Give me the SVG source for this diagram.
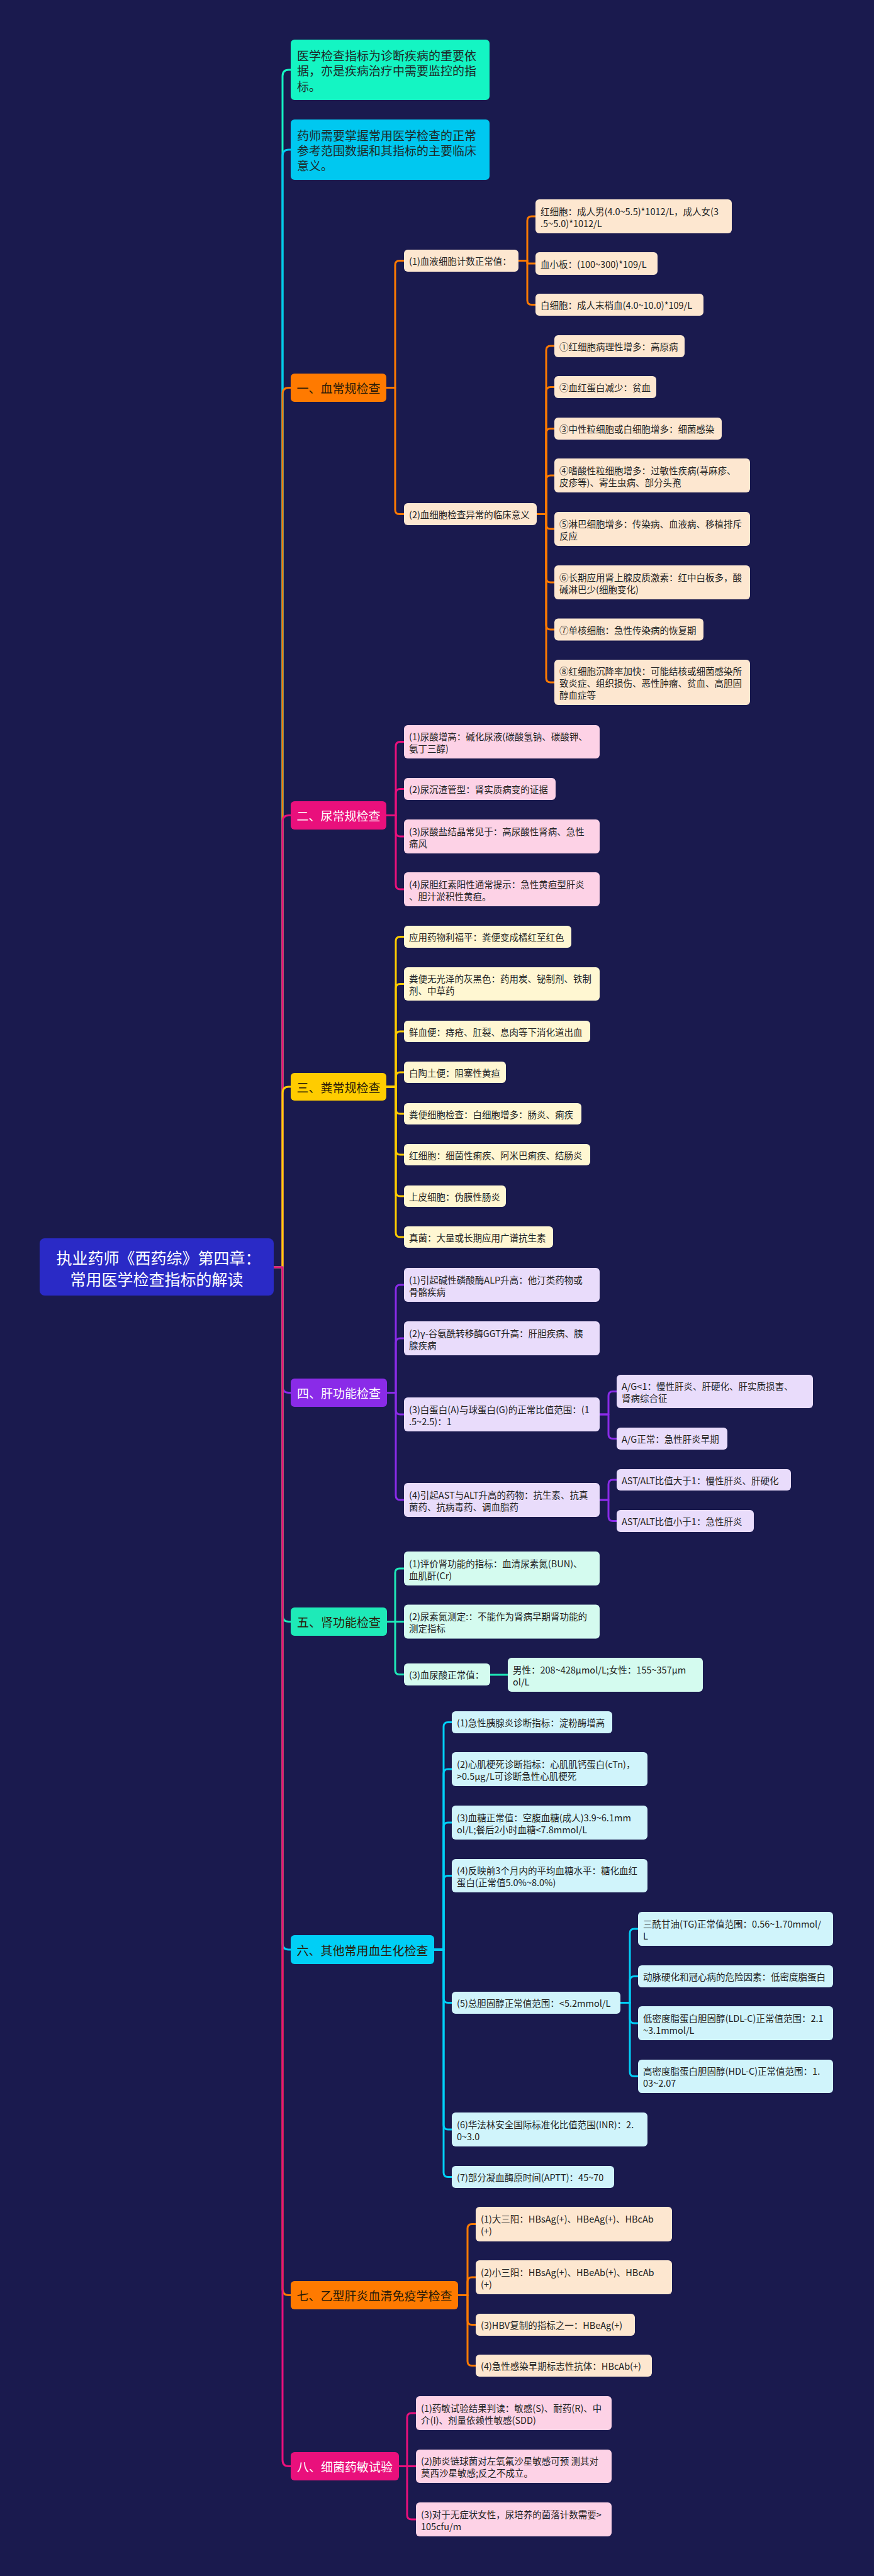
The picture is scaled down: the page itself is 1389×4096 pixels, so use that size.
<svg xmlns="http://www.w3.org/2000/svg" width="1389" height="4096" viewBox="0 0 1389 4096">
<defs>
<style>
text{font-family:"Noto Sans CJK SC","Noto Sans",sans-serif;dominant-baseline:central}
.r{font-size:25px;fill:#ffffff;text-anchor:middle}
.h{font-size:19px;text-anchor:middle}
.tp{font-size:19px;fill:#1d2b2a}
.lf{font-size:14.5px;fill:#222222}
.tw{fill:#ffffff}
.td{fill:#2a1a08}
.k path{fill:none;stroke-width:3;stroke-linecap:round;stroke-linejoin:round}
.so{stroke:#ff7a00}.sp{stroke:#e9107c}.sy{stroke:#ffcc00}.sv{stroke:#8a2be8}
.sg{stroke:#1eeab8}.sc{stroke:#00cff6}.sa{stroke:#14f5c3}.sb{stroke:#00c8f0}
.o1{fill:#ff7a00}.o2{fill:#fde7d0}
.p1{fill:#e9107c}.p2{fill:#fdd2e6}
.y1{fill:#ffcc00}.y2{fill:#fff7d2}
.v1{fill:#8a2be8}.v2{fill:#e9dcfb}
.g1{fill:#1eeab8}.g2{fill:#d4fbef}
.c1{fill:#00cff6}.c2{fill:#d0f4fb}
</style>
</defs>
<rect x="0" y="0" width="1389" height="4096" fill="#1a1a4e"/>

<g id="connectors" class="k">
<path class="sa" d="M435,2015H449V121Q449,111 459,111H462"/>
<path class="sb" d="M435,2015H449V248Q449,238 459,238H462"/>
<path class="so" d="M435,2015H449V626.5Q449,616.5 459,616.5H462"/>
<path class="sp" d="M435,2015H449V1306.5Q449,1296.5 459,1296.5H462"/>
<path class="sy" d="M435,2015H449V1738Q449,1728 459,1728H462"/>
<path class="sv" d="M435,2015H449V2204.5Q449,2214.5 459,2214.5H462"/>
<path class="sg" d="M435,2015H449V2568.5Q449,2578.5 459,2578.5H462"/>
<path class="sc" d="M435,2015H449V3090Q449,3100 459,3100H462"/>
<path class="so" d="M435,2015H449V3639.5Q449,3649.5 459,3649.5H462"/>
<path class="sp" d="M435,2015H449V3911.5Q449,3921.5 459,3921.5H462"/>

<path class="so" d="M614,616.5H628V421.5Q628,414.5 635,414.5H642"/>
<path class="so" d="M614,616.5H628V810.5Q628,817.5 635,817.5H642"/>
<path class="so" d="M824,414.5H838V351Q838,344 845,344H851"/>
<path class="so" d="M824,414.5H838V419H851"/>
<path class="so" d="M824,414.5H838V477.5Q838,484.5 845,484.5H851"/>
<path class="so" d="M853,817.5H868V557Q868,550 875,550H881"/>
<path class="so" d="M853,817.5H868V622.5Q868,615.5 875,615.5H881"/>
<path class="so" d="M853,817.5H868V688.5Q868,681.5 875,681.5H881"/>
<path class="so" d="M853,817.5H868V763Q868,756 875,756H881"/>
<path class="so" d="M853,817.5H868V834Q868,841 875,841H881"/>
<path class="so" d="M853,817.5H868V919Q868,926 875,926H881"/>
<path class="so" d="M853,817.5H868V994Q868,1001 875,1001H881"/>
<path class="so" d="M853,817.5H868V1078Q868,1085 875,1085H881"/>

<path class="sp" d="M614,1296.5H629V1186.5Q629,1179.5 636,1179.5H642"/>
<path class="sp" d="M614,1296.5H629V1261.5Q629,1254.5 636,1254.5H642"/>
<path class="sp" d="M614,1296.5H629V1323Q629,1330 636,1330H642"/>
<path class="sp" d="M614,1296.5H629V1407Q629,1414 636,1414H642"/>

<path class="sy" d="M614,1728H629V1496.5Q629,1489.5 636,1489.5H642"/>
<path class="sy" d="M614,1728H629V1571.5Q629,1564.5 636,1564.5H642"/>
<path class="sy" d="M614,1728H629V1647Q629,1640 636,1640H642"/>
<path class="sy" d="M614,1728H629V1712Q629,1705 636,1705H642"/>
<path class="sy" d="M614,1728H629V1764Q629,1771 636,1771H642"/>
<path class="sy" d="M614,1728H629V1829Q629,1836 636,1836H642"/>
<path class="sy" d="M614,1728H629V1895Q629,1902 636,1902H642"/>
<path class="sy" d="M614,1728H629V1960Q629,1967 636,1967H642"/>

<path class="sv" d="M615,2214.5H629V2050Q629,2043 636,2043H642"/>
<path class="sv" d="M615,2214.5H629V2135Q629,2128 636,2128H642"/>
<path class="sv" d="M615,2214.5H629V2242Q629,2249 636,2249H642"/>
<path class="sv" d="M615,2214.5H629V2378Q629,2385 636,2385H642"/>
<path class="sv" d="M953,2249H967V2219.5Q967,2212.5 974,2212.5H980"/>
<path class="sv" d="M953,2249H967V2280.5Q967,2287.5 974,2287.5H980"/>
<path class="sv" d="M953,2385H967V2360Q967,2353 974,2353H980"/>
<path class="sv" d="M953,2385H967V2411.5Q967,2418.5 974,2418.5H980"/>

<path class="sg" d="M615,2578.5H628V2501Q628,2494 635,2494H642"/>
<path class="sg" d="M615,2578.5H642"/>
<path class="sg" d="M615,2578.5H628V2655.5Q628,2662.5 635,2662.5H642"/>
<path class="sg" d="M779,2663H807"/>

<path class="sc" d="M690,3100H705V2745.5Q705,2738.5 712,2738.5H718"/>
<path class="sc" d="M690,3100H705V2820Q705,2813 712,2813H718"/>
<path class="sc" d="M690,3100H705V2905Q705,2898 712,2898H718"/>
<path class="sc" d="M690,3100H705V2989.5Q705,2982.5 712,2982.5H718"/>
<path class="sc" d="M690,3100H705V3177.5Q705,3184.5 712,3184.5H718"/>
<path class="sc" d="M690,3100H705V3379Q705,3386 712,3386H718"/>
<path class="sc" d="M690,3100H705V3454.5Q705,3461.5 712,3461.5H718"/>
<path class="sc" d="M986,3184.5H1001V3074Q1001,3067 1008,3067H1014"/>
<path class="sc" d="M986,3184.5H1001V3149.5Q1001,3142.5 1008,3142.5H1014"/>
<path class="sc" d="M986,3184.5H1001V3210Q1001,3217 1008,3217H1014"/>
<path class="sc" d="M986,3184.5H1001V3294.5Q1001,3301.5 1008,3301.5H1014"/>

<path class="so" d="M728,3649.5H743V3543.5Q743,3536.5 750,3536.5H756"/>
<path class="so" d="M728,3649.5H743V3628Q743,3621 750,3621H756"/>
<path class="so" d="M728,3649.5H743V3689.5Q743,3696.5 750,3696.5H756"/>
<path class="so" d="M728,3649.5H743V3754.5Q743,3761.5 750,3761.5H756"/>

<path class="sp" d="M634,3921.5H647V3844Q647,3837 654,3837H661"/>
<path class="sp" d="M634,3921.5H661"/>
<path class="sp" d="M634,3921.5H647V3999Q647,4006 654,4006H661"/>
</g>

<g id="root">
<rect x="63" y="1969" width="372" height="91" rx="8" fill="#2a2ac6"/>
<text class="r" x="252" y="1999">执业药师《西药综》第四章：</text>
<text class="r" x="249" y="2033">常用医学检查指标的解读</text>
</g>

<g id="intro-1">
<rect x="462" y="63" width="316" height="96" rx="6" fill="#14f5c3"/>
<text class="tp" x="472"><tspan x="472" y="87">医学检查指标为诊断疾病的重要依</tspan><tspan x="472" y="111">据，亦是疾病治疗中需要监控的指</tspan><tspan x="472" y="135.5">标。</tspan></text>
</g>
<g id="intro-2">
<rect x="462" y="190" width="316" height="96" rx="6" fill="#00c8f0"/>
<text class="tp" x="472"><tspan x="472" y="214">药师需要掌握常用医学检查的正常</tspan><tspan x="472" y="238">参考范围数据和其指标的主要临床</tspan><tspan x="472" y="262">意义。</tspan></text>
</g>

<g id="n1">
<rect class="o1" x="462" y="594" width="152" height="45" rx="6"/>
<text class="h td" x="538" y="616.5">一、血常规检查</text>
</g>
<g id="n1-1">
<rect class="o2" x="642" y="397" width="182" height="35" rx="6"/>
<text class="lf" x="650" y="414.5">(1)血液细胞计数正常值：</text>
</g>
<g id="n1-1-1">
<rect class="o2" x="851" y="317" width="312" height="54" rx="6"/>
<text class="lf"><tspan x="859" y="334.5">红细胞：成人男(4.0~5.5)*1012/L，成人女(3</tspan><tspan x="859" y="353.5">.5~5.0)*1012/L</tspan></text>
</g>
<g id="n1-1-2">
<rect class="o2" x="851" y="401" width="194" height="36" rx="6"/>
<text class="lf" x="859" y="419">血小板：(100~300)*109/L</text>
</g>
<g id="n1-1-3">
<rect class="o2" x="851" y="467" width="267" height="35" rx="6"/>
<text class="lf" x="859" y="484.5">白细胞：成人末梢血(4.0~10.0)*109/L</text>
</g>
<g id="n1-2">
<rect class="o2" x="642" y="800" width="211" height="35" rx="6"/>
<text class="lf" x="650" y="817.5">(2)血细胞检查异常的临床意义</text>
</g>
<g id="n1-2-1">
<rect class="o2" x="881" y="533" width="207" height="35" rx="6"/>
<text class="lf" x="889" y="550.5">①红细胞病理性增多：高原病</text>
</g>
<g id="n1-2-2">
<rect class="o2" x="881" y="598" width="162" height="35" rx="6"/>
<text class="lf" x="889" y="615.5">②血红蛋白减少：贫血</text>
</g>
<g id="n1-2-3">
<rect class="o2" x="881" y="664" width="266" height="35" rx="6"/>
<text class="lf" x="889" y="681.5">③中性粒细胞或白细胞增多：细菌感染</text>
</g>
<g id="n1-2-4">
<rect class="o2" x="881" y="729" width="311" height="54" rx="6"/>
<text class="lf"><tspan x="889" y="746.5">④嗜酸性粒细胞增多：过敏性疾病(荨麻疹、</tspan><tspan x="889" y="765.5">皮疹等)、寄生虫病、部分头孢</tspan></text>
</g>
<g id="n1-2-5">
<rect class="o2" x="881" y="814" width="311" height="54" rx="6"/>
<text class="lf"><tspan x="889" y="831.5">⑤淋巴细胞增多：传染病、血液病、移植排斥</tspan><tspan x="889" y="850.5">反应</tspan></text>
</g>
<g id="n1-2-6">
<rect class="o2" x="881" y="899" width="311" height="54" rx="6"/>
<text class="lf"><tspan x="889" y="916.5">⑥长期应用肾上腺皮质激素：红中白板多，酸</tspan><tspan x="889" y="935.5">碱淋巴少(细胞变化)</tspan></text>
</g>
<g id="n1-2-7">
<rect class="o2" x="881" y="983.5" width="237" height="35" rx="6"/>
<text class="lf" x="889" y="1001">⑦单核细胞：急性传染病的恢复期</text>
</g>
<g id="n1-2-8">
<rect class="o2" x="881" y="1049" width="311" height="72" rx="6"/>
<text class="lf"><tspan x="889" y="1066">⑧红细胞沉降率加快：可能结核或细菌感染所</tspan><tspan x="889" y="1085">致炎症、组织损伤、恶性肿瘤、贫血、高胆固</tspan><tspan x="889" y="1104">醇血症等</tspan></text>
</g>

<g id="n2">
<rect class="p1" x="462" y="1274" width="152" height="45" rx="6"/>
<text class="h tw" x="538" y="1296.5">二、尿常规检查</text>
</g>
<g id="n2-1">
<rect class="p2" x="642" y="1153" width="311" height="53" rx="6"/>
<text class="lf"><tspan x="650" y="1170">(1)尿酸增高：碱化尿液(碳酸氢钠、碳酸钾、</tspan><tspan x="650" y="1189">氨丁三醇)</tspan></text>
</g>
<g id="n2-2">
<rect class="p2" x="642" y="1237" width="241" height="35" rx="6"/>
<text class="lf" x="650" y="1254.5">(2)尿沉渣管型：肾实质病变的证据</text>
</g>
<g id="n2-3">
<rect class="p2" x="642" y="1303" width="311" height="54" rx="6"/>
<text class="lf"><tspan x="650" y="1320.5">(3)尿酸盐结晶常见于：高尿酸性肾病、急性</tspan><tspan x="650" y="1339.5">痛风</tspan></text>
</g>
<g id="n2-4">
<rect class="p2" x="642" y="1387" width="311" height="54" rx="6"/>
<text class="lf"><tspan x="650" y="1404.5">(4)尿胆红素阳性通常提示：急性黄疸型肝炎</tspan><tspan x="650" y="1423.5">、胆汁淤积性黄疸。</tspan></text>
</g>

<g id="n3">
<rect class="y1" x="462" y="1706" width="152" height="44" rx="6"/>
<text class="h td" x="538" y="1728">三、粪常规检查</text>
</g>
<g id="n3-1">
<rect class="y2" x="642" y="1472" width="266" height="35" rx="6"/>
<text class="lf" x="650" y="1489.5">应用药物利福平：粪便变成橘红至红色</text>
</g>
<g id="n3-2">
<rect class="y2" x="642" y="1538" width="311" height="53" rx="6"/>
<text class="lf"><tspan x="650" y="1555">粪便无光泽的灰黑色：药用炭、铋制剂、铁制</tspan><tspan x="650" y="1574">剂、中草药</tspan></text>
</g>
<g id="n3-3">
<rect class="y2" x="642" y="1623" width="296" height="34" rx="6"/>
<text class="lf" x="650" y="1640">鲜血便：痔疮、肛裂、息肉等下消化道出血</text>
</g>
<g id="n3-4">
<rect class="y2" x="642" y="1688" width="162" height="34" rx="6"/>
<text class="lf" x="650" y="1705">白陶土便：阻塞性黄疸</text>
</g>
<g id="n3-5">
<rect class="y2" x="642" y="1754" width="282" height="34" rx="6"/>
<text class="lf" x="650" y="1771">粪便细胞检查：白细胞增多：肠炎、痢疾</text>
</g>
<g id="n3-6">
<rect class="y2" x="642" y="1819" width="296" height="34" rx="6"/>
<text class="lf" x="650" y="1836">红细胞：细菌性痢疾、阿米巴痢疾、结肠炎</text>
</g>
<g id="n3-7">
<rect class="y2" x="642" y="1885" width="162" height="34" rx="6"/>
<text class="lf" x="650" y="1902">上皮细胞：伪膜性肠炎</text>
</g>
<g id="n3-8">
<rect class="y2" x="642" y="1950" width="237" height="34" rx="6"/>
<text class="lf" x="650" y="1967">真菌：大量或长期应用广谱抗生素</text>
</g>

<g id="n4">
<rect class="v1" x="462" y="2192" width="153" height="45" rx="6"/>
<text class="h tw" x="538.5" y="2214.5">四、肝功能检查</text>
</g>
<g id="n4-1">
<rect class="v2" x="642" y="2016" width="311" height="54" rx="6"/>
<text class="lf"><tspan x="650" y="2033.5">(1)引起碱性磷酸酶ALP升高：他汀类药物或</tspan><tspan x="650" y="2052.5">骨骼疾病</tspan></text>
</g>
<g id="n4-2">
<rect class="v2" x="642" y="2101" width="311" height="54" rx="6"/>
<text class="lf"><tspan x="650" y="2118.5">(2)γ-谷氨酰转移酶GGT升高：肝胆疾病、胰</tspan><tspan x="650" y="2137.5">腺疾病</tspan></text>
</g>
<g id="n4-3">
<rect class="v2" x="642" y="2222" width="311" height="54" rx="6"/>
<text class="lf"><tspan x="650" y="2239.5">(3)白蛋白(A)与球蛋白(G)的正常比值范围：(1</tspan><tspan x="650" y="2258.5">.5~2.5)：1</tspan></text>
</g>
<g id="n4-3-1">
<rect class="v2" x="980" y="2186" width="312" height="53" rx="6"/>
<text class="lf"><tspan x="988" y="2203">A/G&lt;1：慢性肝炎、肝硬化、肝实质损害、</tspan><tspan x="988" y="2222">肾病综合征</tspan></text>
</g>
<g id="n4-3-2">
<rect class="v2" x="980" y="2270" width="176" height="35" rx="6"/>
<text class="lf" x="988" y="2287.5">A/G正常：急性肝炎早期</text>
</g>
<g id="n4-4">
<rect class="v2" x="642" y="2358" width="311" height="54" rx="6"/>
<text class="lf"><tspan x="650" y="2375.5">(4)引起AST与ALT升高的药物：抗生素、抗真</tspan><tspan x="650" y="2394.5">菌药、抗病毒药、调血脂药</tspan></text>
</g>
<g id="n4-4-1">
<rect class="v2" x="980" y="2336" width="277" height="34" rx="6"/>
<text class="lf" x="988" y="2353">AST/ALT比值大于1：慢性肝炎、肝硬化</text>
</g>
<g id="n4-4-2">
<rect class="v2" x="980" y="2401" width="218" height="35" rx="6"/>
<text class="lf" x="988" y="2418.5">AST/ALT比值小于1：急性肝炎</text>
</g>

<g id="n5">
<rect class="g1" x="462" y="2556" width="153" height="45" rx="6"/>
<text class="h td" x="538.5" y="2578.5">五、肾功能检查</text>
</g>
<g id="n5-1">
<rect class="g2" x="642" y="2467" width="311" height="54" rx="6"/>
<text class="lf"><tspan x="650" y="2484.5">(1)评价肾功能的指标：血清尿素氮(BUN)、</tspan><tspan x="650" y="2503.5">血肌酐(Cr)</tspan></text>
</g>
<g id="n5-2">
<rect class="g2" x="642" y="2551.5" width="311" height="54" rx="6"/>
<text class="lf"><tspan x="650" y="2569">(2)尿素氮测定:：不能作为肾病早期肾功能的</tspan><tspan x="650" y="2588">测定指标</tspan></text>
</g>
<g id="n5-3">
<rect class="g2" x="642" y="2645" width="137" height="35" rx="6"/>
<text class="lf" x="650" y="2662.5">(3)血尿酸正常值：</text>
</g>
<g id="n5-3-1">
<rect class="g2" x="807" y="2636" width="310" height="54" rx="6"/>
<text class="lf"><tspan x="815" y="2653.5">男性：208~428μmol/L;女性：155~357μm</tspan><tspan x="815" y="2672.5">ol/L</tspan></text>
</g>

<g id="n6">
<rect class="c1" x="462" y="3077" width="228" height="46" rx="6"/>
<text class="h td" x="576" y="3100">六、其他常用血生化检查</text>
</g>
<g id="n6-1">
<rect class="c2" x="718" y="2721" width="255" height="35" rx="6"/>
<text class="lf" x="726" y="2738.5">(1)急性胰腺炎诊断指标：淀粉酶增高</text>
</g>
<g id="n6-2">
<rect class="c2" x="718" y="2786" width="311" height="54" rx="6"/>
<text class="lf"><tspan x="726" y="2803.5">(2)心肌梗死诊断指标：心肌肌钙蛋白(cTn)，</tspan><tspan x="726" y="2822.5">&gt;0.5μg/L可诊断急性心肌梗死</tspan></text>
</g>
<g id="n6-3">
<rect class="c2" x="718" y="2871" width="311" height="54" rx="6"/>
<text class="lf"><tspan x="726" y="2888.5">(3)血糖正常值：空腹血糖(成人)3.9~6.1mm</tspan><tspan x="726" y="2907.5">ol/L;餐后2小时血糖&lt;7.8mmol/L</tspan></text>
</g>
<g id="n6-4">
<rect class="c2" x="718" y="2956" width="311" height="53" rx="6"/>
<text class="lf"><tspan x="726" y="2973">(4)反映前3个月内的平均血糖水平：糖化血红</tspan><tspan x="726" y="2992">蛋白(正常值5.0%~8.0%)</tspan></text>
</g>
<g id="n6-5">
<rect class="c2" x="718" y="3167" width="268" height="35" rx="6"/>
<text class="lf" x="726" y="3184.5">(5)总胆固醇正常值范围：&lt;5.2mmol/L</text>
</g>
<g id="n6-5-1">
<rect class="c2" x="1014" y="3040" width="310" height="54" rx="6"/>
<text class="lf"><tspan x="1022" y="3057.5">三酰甘油(TG)正常值范围：0.56~1.70mmol/</tspan><tspan x="1022" y="3076.5">L</tspan></text>
</g>
<g id="n6-5-2">
<rect class="c2" x="1014" y="3125" width="310" height="35" rx="6"/>
<text class="lf" x="1022" y="3142.5">动脉硬化和冠心病的危险因素：低密度脂蛋白</text>
</g>
<g id="n6-5-3">
<rect class="c2" x="1014" y="3190" width="310" height="54" rx="6"/>
<text class="lf"><tspan x="1022" y="3207.5">低密度脂蛋白胆固醇(LDL-C)正常值范围：2.1</tspan><tspan x="1022" y="3226.5">~3.1mmol/L</tspan></text>
</g>
<g id="n6-5-4">
<rect class="c2" x="1014" y="3275" width="310" height="53" rx="6"/>
<text class="lf"><tspan x="1022" y="3292">高密度脂蛋白胆固醇(HDL-C)正常值范围：1.</tspan><tspan x="1022" y="3311">03~2.07</tspan></text>
</g>
<g id="n6-6">
<rect class="c2" x="718" y="3359" width="311" height="54" rx="6"/>
<text class="lf"><tspan x="726" y="3376.5">(6)华法林安全国际标准化比值范围(INR)：2.</tspan><tspan x="726" y="3395.5">0~3.0</tspan></text>
</g>
<g id="n6-7">
<rect class="c2" x="718" y="3444" width="258" height="35" rx="6"/>
<text class="lf" x="726" y="3461.5">(7)部分凝血酶原时间(APTT)：45~70</text>
</g>

<g id="n7">
<rect class="o1" x="462" y="3627" width="266" height="45" rx="6"/>
<text class="h td" x="595" y="3649.5">七、乙型肝炎血清免疫学检查</text>
</g>
<g id="n7-1">
<rect class="o2" x="756" y="3509" width="312" height="55" rx="6"/>
<text class="lf"><tspan x="764" y="3527">(1)大三阳：HBsAg(+)、HBeAg(+)、HBcAb</tspan><tspan x="764" y="3546">(+)</tspan></text>
</g>
<g id="n7-2">
<rect class="o2" x="756" y="3594" width="312" height="54" rx="6"/>
<text class="lf"><tspan x="764" y="3611.5">(2)小三阳：HBsAg(+)、HBeAb(+)、HBcAb</tspan><tspan x="764" y="3630.5">(+)</tspan></text>
</g>
<g id="n7-3">
<rect class="o2" x="756" y="3679" width="253" height="35" rx="6"/>
<text class="lf" x="764" y="3696.5">(3)HBV复制的指标之一：HBeAg(+)</text>
</g>
<g id="n7-4">
<rect class="o2" x="756" y="3744" width="280" height="35" rx="6"/>
<text class="lf" x="764" y="3761.5">(4)急性感染早期标志性抗体：HBcAb(+)</text>
</g>

<g id="n8">
<rect class="p1" x="462" y="3899" width="172" height="45" rx="6"/>
<text class="h tw" x="548" y="3921.5">八、细菌药敏试验</text>
</g>
<g id="n8-1">
<rect class="p2" x="661" y="3810" width="311" height="54" rx="6"/>
<text class="lf"><tspan x="669" y="3827.5">(1)药敏试验结果判读：敏感(S)、耐药(R)、中</tspan><tspan x="669" y="3846.5">介(I)、剂量依赖性敏感(SDD)</tspan></text>
</g>
<g id="n8-2">
<rect class="p2" x="661" y="3895" width="311" height="53" rx="6"/>
<text class="lf"><tspan x="669" y="3912">(2)肺炎链球菌对左氧氟沙星敏感可预 测其对</tspan><tspan x="669" y="3931">莫西沙星敏感;反之不成立。</tspan></text>
</g>
<g id="n8-3">
<rect class="p2" x="661" y="3979" width="311" height="54" rx="6"/>
<text class="lf"><tspan x="669" y="3996.5">(3)对于无症状女性，尿培养的菌落计数需要&gt;</tspan><tspan x="669" y="4015.5">105cfu/m</tspan></text>
</g>
</svg>
